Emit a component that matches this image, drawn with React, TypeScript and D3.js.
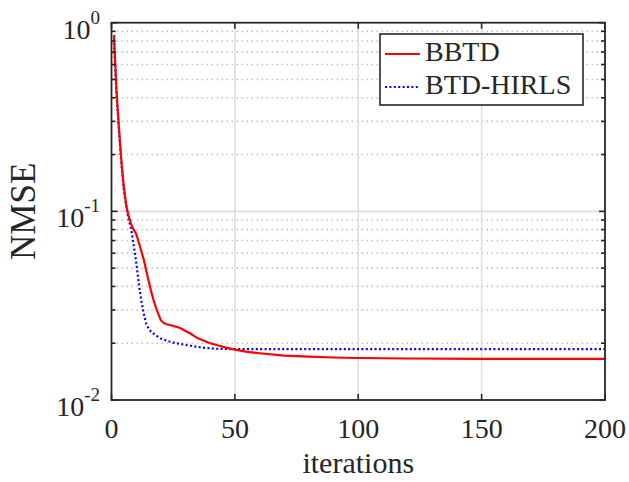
import React, { useEffect, useRef } from 'react';
import * as d3 from 'd3';

// iterations and NMSE values
const bbtdIter = [1, 2, 3, 4, 5, 6, 7, 8, 9, 10, 11, 12, 13, 14, 15, 16, 17, 18, 19, 20, 21, 22, 24, 26, 28, 30, 32, 34, 36, 38, 40, 43, 46, 50, 55, 60, 70, 80, 90, 100, 120, 150, 200];
const bbtdNmse = [0.86, 0.44, 0.28, 0.185, 0.135, 0.107, 0.094, 0.085, 0.08, 0.076, 0.069, 0.062, 0.056, 0.049, 0.043, 0.038, 0.034, 0.031, 0.0285, 0.0265, 0.0257, 0.0253, 0.0249, 0.0245, 0.024, 0.0232, 0.0225, 0.0216, 0.021, 0.0205, 0.02, 0.0195, 0.019, 0.0185, 0.018, 0.0177, 0.0172, 0.017, 0.0168, 0.0167, 0.0166, 0.0165, 0.0165];

const hirlsIter = [1, 2, 3, 4, 5, 6, 7, 8, 9, 10, 11, 12, 13, 14, 15, 16, 18, 20, 23, 26, 30, 34, 38, 42, 50, 100, 150, 200];
const hirlsNmse = [0.78, 0.42, 0.27, 0.18, 0.13, 0.105, 0.09, 0.08, 0.066, 0.054, 0.042, 0.034, 0.029, 0.0255, 0.024, 0.023, 0.022, 0.0212, 0.0205, 0.02, 0.0196, 0.0192, 0.0189, 0.0187, 0.0186, 0.0186, 0.0186, 0.0186];

const xTicks = [0, 50, 100, 150, 200];
const yTicks = [0.01, 0.1, 1];
const yTickExp = ['-2', '-1', '0'];
const seriesNames = ['BBTD', 'BTD-HIRLS'];

const W = 629, H = 482;
const margin = { top: 22.7, right: 24, bottom: 82, left: 111.5 };
const FONT = '"Liberation Serif", "Times New Roman", serif';
const AX = '#262626';

export default function App() {
  const ref = useRef<SVGSVGElement | null>(null);

  useEffect(() => {
    const svg = d3.select(ref.current);
    svg.selectAll('*').remove();
    const width = W - margin.left - margin.right;
    const height = H - margin.top - margin.bottom;

    const x = d3.scaleLinear().domain([0, 200]).range([margin.left, margin.left + width]);
    const y = d3.scaleLog().domain([0.01, 1]).range([margin.top + height, margin.top]);
    const x0 = x(0), x1 = x(200), y0 = y(0.01), y1 = y(1);

    svg.append('rect').attr('x', 0).attr('y', 0).attr('width', W).attr('height', H).attr('fill', 'white');

    // minor y grid (dotted)
    const minors: number[] = [];
    [0.01, 0.1].forEach(d => { for (let k = 2; k <= 9; k++) minors.push(d * k); });
    svg.append('g').selectAll('line').data(minors).enter().append('line')
      .attr('x1', x0).attr('x2', x1)
      .attr('y1', d => y(d)).attr('y2', d => y(d))
      .attr('stroke', '#c4c4c4').attr('stroke-width', 1.6)
      .attr('stroke-dasharray', '1.6,3.4');

    // major grid
    svg.append('g').selectAll('line').data(xTicks.slice(1, -1)).enter().append('line')
      .attr('x1', d => x(d)).attr('x2', d => x(d))
      .attr('y1', y0).attr('y2', y1)
      .attr('stroke', '#dfdfdf').attr('stroke-width', 1.6);
    svg.append('line')
      .attr('x1', x0).attr('x2', x1).attr('y1', y(0.1)).attr('y2', y(0.1))
      .attr('stroke', '#dfdfdf').attr('stroke-width', 1.6);

    // series
    const line = d3.line<[number, number]>().x(d => x(d[0])).y(d => y(d[1]));
    const red = bbtdIter.map((v, i) => [v, bbtdNmse[i]] as [number, number]);
    const blue = hirlsIter.map((v, i) => [v, hirlsNmse[i]] as [number, number]);
    svg.append('path').datum(blue).attr('d', line)
      .attr('fill', 'none').attr('stroke', '#0000ff').attr('stroke-width', 2.2)
      .attr('stroke-dasharray', '2,2.4');
    svg.append('path').datum(red).attr('d', line)
      .attr('fill', 'none').attr('stroke', '#ff0000').attr('stroke-width', 2.2);

    // axes box
    svg.append('rect').attr('x', x0).attr('y', y1).attr('width', x1 - x0).attr('height', y0 - y1)
      .attr('fill', 'none').attr('stroke', AX).attr('stroke-width', 1.8);

    // ticks
    const tk = svg.append('g').attr('stroke', AX).attr('stroke-width', 1.6);
    xTicks.forEach(d => {
      tk.append('line').attr('x1', x(d)).attr('x2', x(d)).attr('y1', y0).attr('y2', y0 - 6);
      tk.append('line').attr('x1', x(d)).attr('x2', x(d)).attr('y1', y1).attr('y2', y1 + 6);
    });
    yTicks.forEach(d => {
      tk.append('line').attr('x1', x0).attr('x2', x0 + 6).attr('y1', y(d)).attr('y2', y(d));
      tk.append('line').attr('x1', x1).attr('x2', x1 - 6).attr('y1', y(d)).attr('y2', y(d));
    });
    minors.forEach(d => {
      tk.append('line').attr('x1', x0).attr('x2', x0 + 4).attr('y1', y(d)).attr('y2', y(d));
      tk.append('line').attr('x1', x1).attr('x2', x1 - 4).attr('y1', y(d)).attr('y2', y(d));
    });

    // tick labels
    svg.append('g').selectAll('text').data(xTicks).enter().append('text')
      .attr('x', d => x(d)).attr('y', y0 + 38)
      .attr('text-anchor', 'middle').attr('font-family', FONT).attr('font-size', 28)
      .attr('fill', AX).text(d => d);

    yTicks.forEach((d, i) => {
      const t = svg.append('text').attr('x', 100).attr('y', y(d) + 16)
        .attr('text-anchor', 'end').attr('font-family', FONT).attr('fill', AX);
      t.append('tspan').attr('font-size', 28).text('10');
      t.append('tspan').attr('font-size', 19).attr('dy', -15).text(yTickExp[i]);
    });

    // axis labels
    svg.append('text').attr('x', (x0 + x1) / 2).attr('y', 473)
      .attr('text-anchor', 'middle').attr('font-family', FONT).attr('font-size', 30)
      .attr('fill', AX).text('iterations');
    svg.append('text').attr('transform', `translate(35,${(y0 + y1) / 2}) rotate(-90)`)
      .attr('text-anchor', 'middle').attr('font-family', FONT).attr('font-size', 35)
      .attr('fill', AX).text('NMSE');

    // legend
    const lg = svg.append('g');
    lg.append('rect').attr('x', 380).attr('y', 34).attr('width', 203).attr('height', 71)
      .attr('fill', 'white').attr('stroke', AX).attr('stroke-width', 1.6);
    lg.append('line').attr('x1', 385).attr('x2', 420).attr('y1', 54).attr('y2', 54)
      .attr('stroke', '#ff0000').attr('stroke-width', 2.2);
    lg.append('line').attr('x1', 385).attr('x2', 420).attr('y1', 87).attr('y2', 87)
      .attr('stroke', '#0000ff').attr('stroke-width', 2.2).attr('stroke-dasharray', '2,2.4');
    seriesNames.forEach((n, i) => {
      lg.append('text').attr('x', 425).attr('y', i === 0 ? 61 : 94)
        .attr('font-family', FONT).attr('font-size', 28).attr('fill', AX).text(n);
    });
  }, []);

  return (
    <div style={{ position: 'absolute', left: 0, top: 0 }}>
      <svg ref={ref} width={W} height={H} style={{ display: 'block' }} />
    </div>
  );
}
